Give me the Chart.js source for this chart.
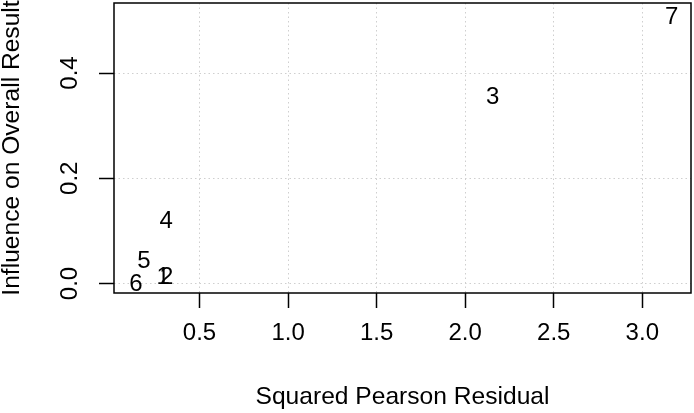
<!DOCTYPE html>
<html><head><meta charset="utf-8">
<script src="https://cdn.jsdelivr.net/npm/chart.js@4.4.0/dist/chart.umd.min.js"></script>
<style>html,body{margin:0;padding:0;background:#fff;} #wrap{width:694px;height:413px;}</style>
</head><body><div id="wrap"><canvas id="c" width="694" height="413"></canvas></div>
<script>
const studyLabels = ['1','2','3','4','5','6','7'];
const squaredResidual = [0.294, 0.314, 2.155, 0.311, 0.186, 0.141, 3.166];
const influence = [0.015, 0.016, 0.358, 0.122, 0.046, 0.0015, 0.510];
const xTicks = [0.5, 1.0, 1.5, 2.0, 2.5, 3.0];
const xTickLabels = ['0.5','1.0','1.5','2.0','2.5','3.0'];
const yTicks = [0.0, 0.1, 0.2, 0.3, 0.4, 0.5];
const yTickLabels = ['0.0', null, '0.2', null, '0.4', null];
const xTitle = 'Squared Pearson Residual';
const yTitle = 'Influence on Overall Result';

const FONT = '"Liberation Sans", Arial, Helvetica, sans-serif';
const FS = 24;
const TFS = 24.6;

const pointLabelPlugin = {
  id: 'pointLabels',
  afterDatasetsDraw(chart) {
    const ctx = chart.ctx;
    const meta = chart.getDatasetMeta(0);
    ctx.save();
    ctx.font = FS + 'px ' + FONT;
    ctx.fillStyle = '#000';
    ctx.textAlign = 'center';
    ctx.textBaseline = 'alphabetic';
    meta.data.forEach((el, i) => {
      ctx.fillText(studyLabels[i], el.x, el.y + 0.716 * FS / 2);
    });
    ctx.restore();
  }
};
const boxPlugin = {
  id: 'box',
  afterDraw(chart) {
    const {ctx, chartArea: a} = chart;
    ctx.save();
    ctx.strokeStyle = '#000';
    ctx.lineWidth = 1.5;
    ctx.strokeRect(a.left, a.top, a.right - a.left, a.bottom - a.top);
    ctx.restore();
  }
};

new Chart(document.getElementById('c'), {
  type: 'scatter',
  data: {
    datasets: [{
      data: squaredResidual.map((x, i) => ({x: x, y: influence[i]})),
      pointRadius: 0,
      pointHoverRadius: 0,
      showLine: false
    }]
  },
  options: {
    responsive: false,
    devicePixelRatio: 1,
    animation: false,
    events: [],
    layout: {padding: {top: 3, right: 3, left: 0, bottom: 0}},
    plugins: {legend: {display: false}, tooltip: {enabled: false}},
    scales: {
      x: {
        type: 'linear',
        min: 0.017,
        max: 3.275,
        afterBuildTicks: (s) => { s.ticks = xTicks.map(v => ({value: v})); },
        afterFit: (s) => { s.height = 120; s.paddingLeft = 0; s.paddingRight = 0; },
        ticks: {
          autoSkip: false,
          maxRotation: 0,
          padding: 11,
          color: '#000',
          font: {family: FONT, size: FS},
          callback: (v, i) => xTickLabels[i]
        },
        grid: {
          color: '#cfcfcf',
          lineWidth: 1,
          drawTicks: true,
          tickLength: 15,
          tickColor: '#000',
          tickWidth: 1.5,
          tickBorderDash: []
        },
        border: {display: false, dash: [1.5, 3]},
        title: {
          display: true,
          text: xTitle,
          color: '#000',
          font: {family: FONT, size: TFS, lineHeight: 1},
          padding: {top: 0, bottom: 3}
        }
      },
      y: {
        type: 'linear',
        min: -0.018,
        max: 0.533,
        afterBuildTicks: (s) => { s.ticks = yTicks.map(v => ({value: v})); },
        afterFit: (s) => { s.width = 114; s.paddingTop = 0; s.paddingBottom = 0; },
        ticks: {
          autoSkip: false,
          minRotation: 90,
          maxRotation: 90,
          crossAlign: 'center',
          padding: 11.5,
          color: '#000',
          font: {family: FONT, size: FS},
          callback: (v, i) => yTickLabels[i]
        },
        grid: {
          color: '#cfcfcf',
          lineWidth: 1,
          drawTicks: true,
          tickLength: 15,
          tickColor: '#000',
          tickWidth: 1.5,
          tickBorderDash: []
        },
        border: {display: false, dash: [1.5, 3]},
        title: {
          display: true,
          text: yTitle,
          color: '#000',
          font: {family: FONT, size: TFS, lineHeight: 1},
          padding: {top: 0, bottom: 0}
        }
      }
    }
  },
  plugins: [pointLabelPlugin, boxPlugin]
});
</script>
</body></html>
